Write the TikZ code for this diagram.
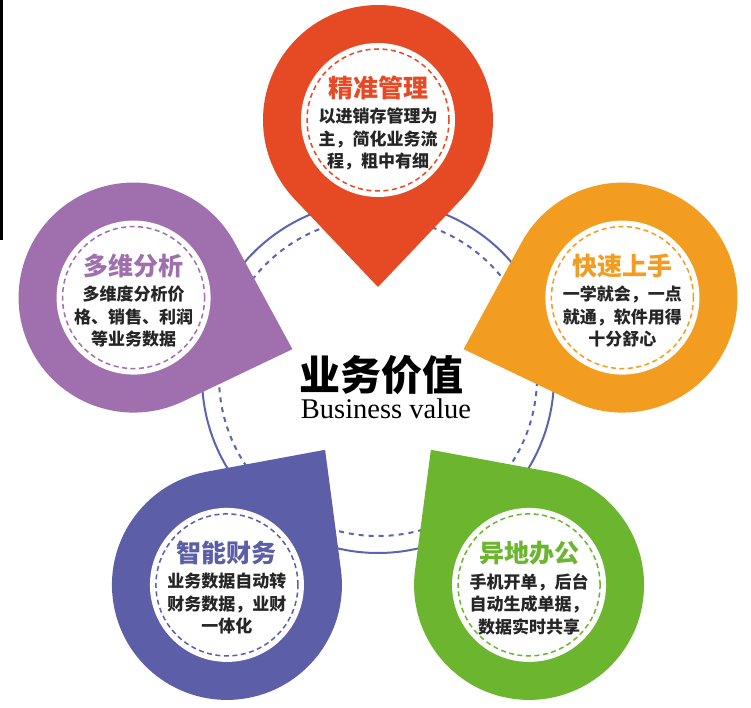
\documentclass[tikz,border=0pt]{standalone}
\usepackage{fontspec}
\setmainfont{Liberation Serif}
\newfontfamily\cjk{Noto Sans CJK SC}
\usepackage{tikz}
\usetikzlibrary{calc, positioning}
\definecolor{pinred}{HTML}{E64A25}
\definecolor{pinpurple}{HTML}{A070AE}
\definecolor{pinorange}{HTML}{F29D1F}
\definecolor{pinindigo}{HTML}{5D5EA8}
\definecolor{pingreen}{HTML}{6CB52F}
\definecolor{ringblue}{HTML}{5B64AF}
\tikzset{
  pinhead/.style={font=\cjk\bfseries\fontsize{25}{28}\selectfont, inner sep=0pt},
  pinbody/.style={font=\cjk\bfseries\fontsize{17}{22.5}\selectfont, align=center, inner sep=0pt, text=black!85},
  ring/.style={draw=ringblue, line width=2pt},
  dashring/.style={draw=ringblue, line width=2pt, dash pattern=on 5pt off 5pt},
  innerdash/.style={line width=1.5pt, dash pattern=on 5pt off 3.5pt},
  bigtitle/.style={font=\cjk\bfseries\fontsize{41}{44}\selectfont, inner sep=0pt},
  subtitle/.style={font=\fontsize{28.5}{30}\selectfont, inner sep=0pt}
}

\begin{document}
\begin{tikzpicture}[x=1pt, y=1pt]
\useasboundingbox (0,0) rectangle (751,707);
\fill[black] (0,707) rectangle (2.5,467);

% rings round the centre
\coordinate (O) at (378,330);
\draw[ring] (O) circle[radius=176];
\draw[dashring] (O) circle[radius=159];

% five pins
\foreach \ang/\col/\nm/\head/\body in {
  90/pinred/mgmt/精准管理/{以进销存管理为\\主，简化业务流\\程，粗中有细},
  162/pinpurple/multi/多维分析/{多维度分析价\\格、销售、利润\\等业务数据},
  18/pinorange/quick/快速上手/{一学就会，一点\\就通，软件用得\\十分舒心},
  234/pinindigo/fin/智能财务/{业务数据自动转\\财务数据，业财\\一体化},
  306/pingreen/remote/异地办公/{手机开单，后台\\自动生成单据，\\数据实时共享}}{
  \coordinate (\nm) at ($(O)+(\ang:257)$);
  \fill[\col] ($(O)+(\ang:90)$) -- ($(\nm)+(\ang+226.5:115)$)
    arc[start angle=\ang+226.5, delta angle=267, radius=115] -- cycle;
  \fill[white] (\nm) circle[radius=77];
  \draw[\col, innerdash] (\nm) circle[radius=71];
  \node[pinhead, text=\col] (\nm-head) at ($(\nm)+(0,32)$) {\head};
  \node[pinbody] (\nm-text) at ($(\nm)+(0,-19)$) {\body};
}

% centre title
\node[bigtitle] (biz) at (381.5,332) {业务价值};
\node[subtitle, anchor=base] (bizen) at (386,289) {Business value};
\end{tikzpicture}
\end{document}
